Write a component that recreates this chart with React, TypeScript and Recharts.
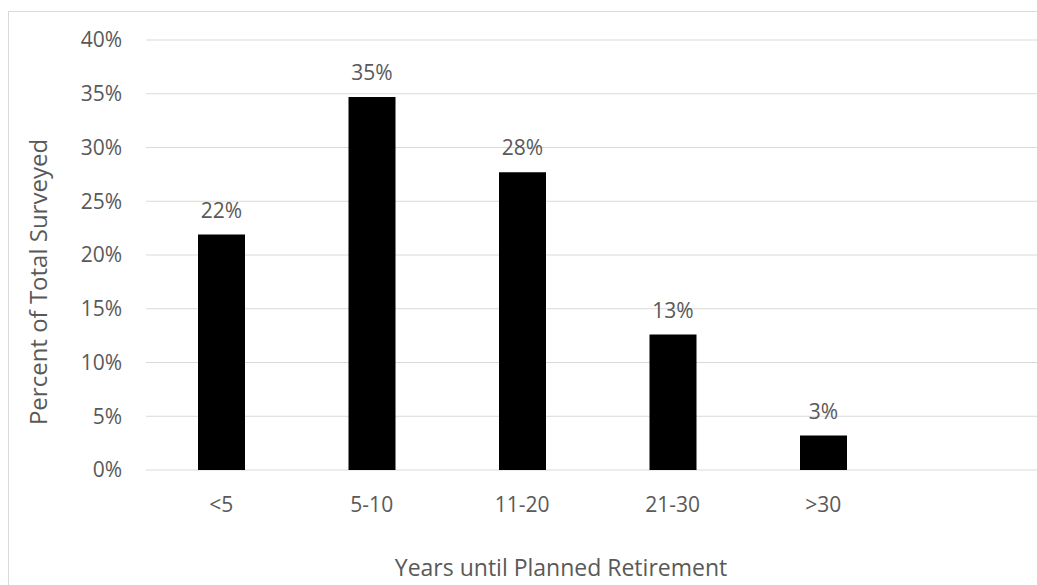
import React from 'react';
import { BarChart, Bar, XAxis, YAxis, CartesianGrid, LabelList, Label } from 'recharts';

const categories = ['<5', '5-10', '11-20', '21-30', '>30', ''];
const percentValues = [0.219, 0.347, 0.277, 0.126, 0.032, null];
const yTicks = [0, 0.05, 0.1, 0.15, 0.2, 0.25, 0.3, 0.35, 0.4];
const xTitle = 'Years until Planned Retirement';
const yTitle = 'Percent of Total Surveyed';

const data = categories.map((c, i) => ({ name: c, value: percentValues[i] }));

const FONT = '"Open Sans", sans-serif';
const TEXT = '#595959';
const pct = (v: any) => (v == null ? '' : `${Math.round(Number(v) * 100)}%`);

export default function App() {
  return (
    <div
      style={{
        position: 'fixed',
        left: 8,
        top: 11,
        width: 1029,
        height: 574,
        overflow: 'hidden',
        borderTop: '1px solid #d9d9d9',
        borderLeft: '1px solid #d9d9d9',
        boxSizing: 'border-box',
        background: '#fff',
      }}
    >
      <BarChart
        width={1106}
        height={590}
        data={data}
        margin={{ top: 28, right: 66, bottom: 72, left: 0 }}
        barSize={47}
      >
        <CartesianGrid vertical={false} stroke="#d9d9d9" strokeWidth={1.2} />
        <XAxis
          dataKey="name"
          axisLine={false}
          tickLine={false}
          tickSize={0}
          tickMargin={27}
          height={60}
          interval={0}
          tick={{ fill: TEXT, fontSize: 21, fontFamily: FONT }}
        >
          <Label
            content={() => (
              <text
                x={552}
                y={564}
                textAnchor="middle"
                fill={TEXT}
                fontSize={23}
                fontFamily={FONT}
              >
                {xTitle}
              </text>
            )}
          />
        </XAxis>
        <YAxis
          width={137}
          domain={[0, 0.4]}
          ticks={yTicks}
          axisLine={false}
          tickLine={false}
          tickSize={0}
          tickMargin={24}
          tickFormatter={pct}
          tick={{ fill: TEXT, fontSize: 21, fontFamily: FONT }}
        >
          <Label
            content={() => (
              <text
                x={38}
                y={270}
                textAnchor="middle"
                transform="rotate(-90 38 270)"
                fill={TEXT}
                fontSize={24}
                fontFamily={FONT}
              >
                {yTitle}
              </text>
            )}
          />
        </YAxis>
        <Bar dataKey="value" fill="#000000" isAnimationActive={false}>
          <LabelList
            dataKey="value"
            position="top"
            offset={17}
            formatter={pct}
            style={{ fill: TEXT, fontSize: 21, fontFamily: FONT }}
          />
        </Bar>
      </BarChart>
    </div>
  );
}
